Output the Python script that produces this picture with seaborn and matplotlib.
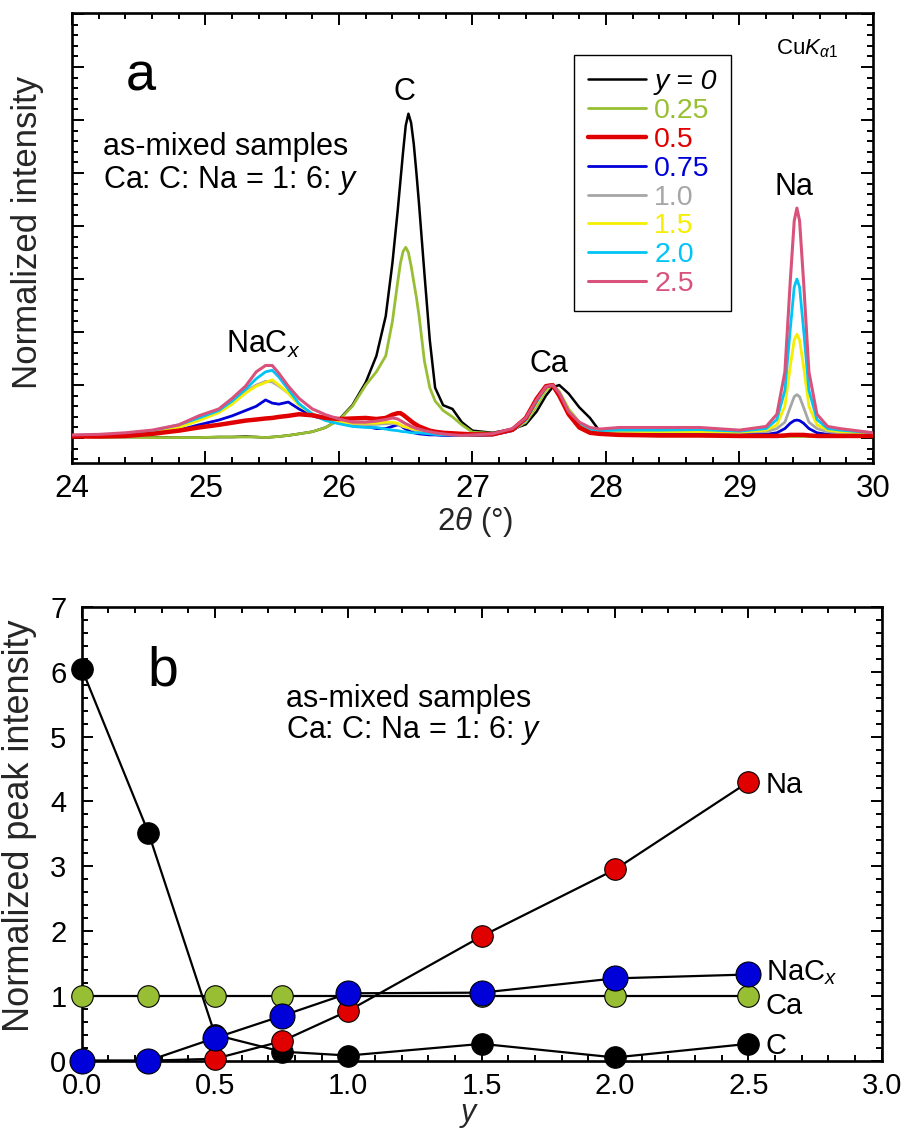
import numpy as np
import pandas as pd
import matplotlib
matplotlib.use("Agg")
import matplotlib.pyplot as plt
import seaborn as sns
from matplotlib.ticker import MultipleLocator, NullFormatter, FormatStrFormatter

# ---------------- panel a : XRD patterns ----------------
TWO_THETA = [24.00, 24.20, 24.40, 24.60, 24.80, 24.95, 25.10, 25.20, 25.30, 25.38,
             25.45, 25.50, 25.55, 25.62, 25.70, 25.80, 25.90, 26.00, 26.10, 26.20,
             26.28, 26.35, 26.40, 26.44, 26.46, 26.48, 26.50, 26.52, 26.54, 26.56,
             26.58, 26.60, 26.64, 26.68,
             26.72, 26.78, 26.85, 26.92, 27.00, 27.15,
             27.30, 27.40, 27.48, 27.55, 27.60, 27.65, 27.72, 27.80, 27.88, 27.95,
             28.10, 28.40, 28.70, 29.00,
             29.20, 29.28, 29.34, 29.38, 29.41, 29.43, 29.45, 29.48, 29.52, 29.58, 29.66, 29.75,
             30.00]

I_Y000 = [0.03, 0.02, 0.02, 0.02, 0.01, 0.01, 0.02, 0.02, 0.03, 0.02,
          0.01, 0.02, 0.03, 0.05, 0.08, 0.12, 0.20, 0.35, 0.62, 1.05,
          1.55, 2.30, 3.30, 4.30, 4.85, 5.40, 5.90, 6.12, 5.95, 5.55,
          5.00, 4.40, 3.10, 1.85,
          0.95, 0.62, 0.55, 0.30, 0.14, 0.10,
          0.17, 0.26, 0.50, 0.80, 0.96, 1.00, 0.84, 0.58, 0.38, 0.14,
          0.08, 0.06, 0.06, 0.05,
          0.05, 0.05, 0.04, 0.05, 0.05, 0.05, 0.04, 0.05, 0.04, 0.05, 0.05, 0.04,
          0.05]
I_Y025 = [0.03, 0.02, 0.02, 0.01, 0.01, 0.01, 0.02, 0.02, 0.02, 0.02,
          0.01, 0.02, 0.03, 0.05, 0.08, 0.12, 0.20, 0.34, 0.60, 1.00,
          1.25, 1.55, 2.20, 2.95, 3.30, 3.52, 3.60, 3.50, 3.25, 2.95,
          2.65, 2.30, 1.45, 0.95,
          0.70, 0.52, 0.40, 0.25, 0.11, 0.09,
          0.15, 0.30, 0.60, 0.90, 1.00, 0.88, 0.55, 0.30, 0.15, 0.10,
          0.06, 0.04, 0.04, 0.03,
          0.03, 0.03, 0.03, 0.03, 0.03, 0.03, 0.03, 0.03, 0.03, 0.03, 0.03, 0.03,
          0.03]
I_Y050 = [0.03, 0.03, 0.04, 0.08, 0.14, 0.20, 0.25, 0.29, 0.33, 0.35,
          0.37, 0.38, 0.40, 0.42, 0.45, 0.43, 0.38, 0.36, 0.37, 0.38,
          0.36, 0.38, 0.44, 0.47, 0.47, 0.44, 0.40, 0.36, 0.32, 0.28,
          0.25, 0.22, 0.18, 0.14,
          0.12, 0.10, 0.09, 0.08, 0.07, 0.07,
          0.16, 0.38, 0.74, 0.98, 1.00, 0.80, 0.45, 0.20, 0.10, 0.08,
          0.06, 0.05, 0.05, 0.04,
          0.04, 0.04, 0.05, 0.06, 0.06, 0.06, 0.06, 0.06, 0.05, 0.04, 0.04, 0.04,
          0.04]
I_Y075 = [0.04, 0.04, 0.05, 0.08, 0.15, 0.25, 0.34, 0.42, 0.52, 0.60,
          0.72, 0.66, 0.64, 0.68, 0.55, 0.42, 0.35, 0.30, 0.27, 0.22,
          0.18, 0.18, 0.22, 0.25, 0.24, 0.20, 0.17, 0.14, 0.12, 0.10,
          0.09, 0.08, 0.07, 0.06,
          0.06, 0.05, 0.05, 0.05, 0.05, 0.06,
          0.14, 0.32, 0.66, 0.94, 1.00, 0.85, 0.50, 0.26, 0.14, 0.10,
          0.08, 0.08, 0.08, 0.07,
          0.07, 0.10, 0.18, 0.28, 0.33, 0.34, 0.33, 0.28, 0.18, 0.10, 0.07, 0.06,
          0.05]
I_Y100 = [0.05, 0.05, 0.07, 0.12, 0.21, 0.35, 0.50, 0.66, 0.88, 1.00,
          1.07, 1.06, 0.98, 0.85, 0.63, 0.46, 0.36, 0.30, 0.26, 0.25,
          0.26, 0.27, 0.28, 0.26, 0.24, 0.22, 0.20, 0.19, 0.17, 0.16,
          0.14, 0.13, 0.11, 0.10,
          0.09, 0.08, 0.07, 0.06, 0.06, 0.07,
          0.15, 0.33, 0.66, 0.94, 1.00, 0.85, 0.50, 0.27, 0.16, 0.13,
          0.12, 0.12, 0.12, 0.11,
          0.12, 0.18, 0.30, 0.58, 0.78, 0.82, 0.78, 0.58, 0.30, 0.18, 0.12, 0.10,
          0.08]
I_Y150 = [0.05, 0.05, 0.07, 0.12, 0.20, 0.33, 0.48, 0.64, 0.85, 0.98,
          1.05, 1.10, 1.00, 0.85, 0.62, 0.45, 0.36, 0.30, 0.28, 0.28,
          0.28, 0.30, 0.30, 0.28, 0.25, 0.22, 0.21, 0.20, 0.18, 0.17,
          0.16, 0.15, 0.13, 0.11,
          0.10, 0.08, 0.07, 0.06, 0.06, 0.07,
          0.15, 0.32, 0.65, 0.93, 1.00, 0.86, 0.52, 0.28, 0.16, 0.13,
          0.13, 0.12, 0.12, 0.11,
          0.15, 0.25, 0.60, 1.35, 1.85, 1.96, 1.85, 1.35, 0.60, 0.25, 0.15, 0.12,
          0.10]
I_Y200 = [0.05, 0.06, 0.08, 0.14, 0.25, 0.38, 0.52, 0.70, 0.92, 1.12,
          1.25, 1.28, 1.15, 0.92, 0.65, 0.45, 0.33, 0.27, 0.22, 0.20,
          0.20, 0.17, 0.15, 0.14, 0.13, 0.12, 0.12, 0.11, 0.10, 0.10,
          0.10, 0.10, 0.09, 0.08,
          0.07, 0.06, 0.06, 0.05, 0.05, 0.07,
          0.15, 0.34, 0.68, 0.95, 1.00, 0.85, 0.50, 0.28, 0.17, 0.14,
          0.15, 0.15, 0.16, 0.13,
          0.18, 0.35, 0.90, 2.05, 2.85, 3.00, 2.85, 2.05, 0.90, 0.35, 0.18, 0.15,
          0.10]
I_Y250 = [0.06, 0.07, 0.10, 0.15, 0.25, 0.42, 0.55, 0.75, 0.98, 1.25,
          1.37, 1.37, 1.22, 0.98, 0.75, 0.55, 0.44, 0.36, 0.30, 0.30,
          0.32, 0.35, 0.38, 0.36, 0.33, 0.30, 0.27, 0.25, 0.22, 0.20,
          0.18, 0.17, 0.14, 0.12,
          0.10, 0.08, 0.06, 0.05, 0.06, 0.08,
          0.18, 0.38, 0.72, 0.97, 1.00, 0.85, 0.50, 0.30, 0.20, 0.17,
          0.20, 0.20, 0.20, 0.15,
          0.22, 0.45, 1.25, 2.95, 4.10, 4.34, 4.10, 2.95, 1.25, 0.45, 0.22, 0.18,
          0.10]

SAMPLE_LABELS = ["y = 0", "0.25", "0.5", "0.75", "1.0", "1.5", "2.0", "2.5"]
SAMPLE_COLORS = ["#000000", "#98bf33", "#e00000", "#0000d8",
                 "#a6a6a6", "#f5ee00", "#00c4f5", "#d8527c"]

# ---------------- panel b : normalized peak intensity ----------------
Y_RATIO = [0.0, 0.25, 0.5, 0.75, 1.0, 1.5, 2.0, 2.5]
PEAK_C = [6.05, 3.52, 0.40, 0.14, 0.08, 0.26, 0.05, 0.26]
PEAK_CA = [1.0, 1.0, 1.0, 1.0, 1.0, 1.0, 1.0, 1.0]
PEAK_NA = [0.0, 0.0, 0.03, 0.30, 0.77, 1.92, 2.95, 4.30]
PEAK_NACX = [0.0, 0.0, 0.35, 0.69, 1.04, 1.05, 1.27, 1.33]

# ---------------- style ----------------
sns.set_style("ticks")
plt.rcParams.update({
    "font.family": ["Liberation Sans", "DejaVu Sans"],
    "mathtext.fontset": "custom",
    "mathtext.rm": "Liberation Sans",
    "mathtext.it": "Liberation Sans:italic",
    "mathtext.bf": "Liberation Sans:bold",
    "mathtext.sf": "Liberation Sans",
    "axes.linewidth": 1.9,
    "axes.edgecolor": "black",
    "xtick.color": "black",
    "ytick.color": "black",
    "text.color": "black",
})

fig = plt.figure(figsize=(9.08, 11.28), dpi=100)
W, H = 908.0, 1128.0

# ---- panel a ----
ax1 = fig.add_axes([72 / W, 1 - 463 / H, 801 / W, 450 / H])
curves = [I_Y000, I_Y025, I_Y050, I_Y075, I_Y100, I_Y150, I_Y200, I_Y250]
widths = [1.8, 2.0, 3.2, 2.0, 2.0, 2.0, 2.0, 2.2]
zorders = [2, 2.1, 2.7, 2.2, 2.3, 2.4, 2.5, 2.8]
for vals, lab, col, lw, zo in zip(curves, SAMPLE_LABELS, SAMPLE_COLORS, widths, zorders):
    sns.lineplot(x=TWO_THETA, y=vals, color=col, lw=lw, ax=ax1, sort=False,
                 estimator=None, label=lab, zorder=zo)

ax1.set_xlim(24, 30)
ax1.set_ylim(-0.47, 8.02)
ax1.xaxis.set_major_locator(MultipleLocator(1))
ax1.xaxis.set_minor_locator(MultipleLocator(0.2))
ax1.yaxis.set_major_locator(MultipleLocator(1))
ax1.yaxis.set_minor_locator(MultipleLocator(0.2))
ax1.yaxis.set_major_formatter(NullFormatter())
ax1.tick_params(which="both", direction="in", top=True, right=True, width=1.4)
ax1.tick_params(which="major", length=8.5)
ax1.tick_params(which="minor", length=4.5)
ax1.tick_params(axis="x", labelsize=22.5, pad=8)
ax1.set_xlabel(r"2$\theta$ (°)", fontsize=22.5, va="center")
ax1.xaxis.set_label_coords(0.504, -0.131)
ax1.set_ylabel("Normalized intensity", fontsize=25, va="center")
ax1.yaxis.set_label_coords(-0.055, 0.513)

leg = ax1.legend(loc="upper left", bbox_to_anchor=(0.6267, 0.9067), fontsize=20.5,
                 frameon=True, fancybox=False, edgecolor="black", framealpha=1,
                 handlelength=2.04, handletextpad=0.28, labelspacing=0.1,
                 borderpad=0.5, borderaxespad=0.0)
leg.get_frame().set_linewidth(1.0)
for t, c in zip(leg.get_texts(), SAMPLE_COLORS):
    t.set_color(c)
leg.get_texts()[0].set_fontstyle("italic")

ax1.text(24.40, 6.55, "a", fontsize=39, ha="left", va="baseline")
ax1.text(24.232, 5.34, "as-mixed samples", fontsize=22, ha="left", va="baseline")
ax1.text(24.232, 4.72, r"Ca: C: Na = 1: 6: $y$", fontsize=22, ha="left", va="baseline")
ax1.text(26.49, 6.38, "C", fontsize=22, ha="center", va="baseline")
ax1.text(25.15, 1.61, r"NaC$_x$", fontsize=22, ha="left", va="baseline")
ax1.text(27.57, 1.245, "Ca", fontsize=22, ha="center", va="baseline")
ax1.text(29.41, 4.58, "Na", fontsize=22, ha="center", va="baseline")
ax1.text(29.27, 7.23, r"Cu$K_{\alpha 1}$", fontsize=16, ha="left", va="baseline")

# ---- panel b ----
ax2 = fig.add_axes([81.7 / W, 1 - 1060.7 / H, 800 / W, 453.7 / H])
series = [
    (PEAK_CA, "#98bf33", 15.5),
    (PEAK_C, "#000000", 15.5),
    (PEAK_NA, "#e00000", 15.5),
    (PEAK_NACX, "#0000d8", 18.0),
]
for i, (vals, fc, ms) in enumerate(series):
    sns.lineplot(x=Y_RATIO, y=vals, color="black", lw=1.6, marker="o",
                 markersize=ms, markerfacecolor=fc, markeredgecolor="black",
                 markeredgewidth=0.8, ax=ax2, estimator=None, clip_on=False,
                 zorder=3 + i)

ax2.set_xlim(0, 3.0)
ax2.set_ylim(0, 7)
ax2.xaxis.set_major_locator(MultipleLocator(0.5))
ax2.xaxis.set_minor_locator(MultipleLocator(0.1))
ax2.xaxis.set_major_formatter(FormatStrFormatter("%.1f"))
ax2.yaxis.set_major_locator(MultipleLocator(1))
ax2.yaxis.set_minor_locator(MultipleLocator(0.2))
ax2.tick_params(which="both", direction="in", top=True, right=True, width=1.4)
ax2.tick_params(which="major", length=8)
ax2.tick_params(which="minor", length=4.5)
ax2.tick_params(axis="x", labelsize=21, pad=8)
ax2.tick_params(axis="y", labelsize=21, pad=11)
ax2.set_xlabel(r"$y$", fontsize=22, va="center")
ax2.xaxis.set_label_coords(0.485, -0.12)
ax2.set_ylabel("Normalized peak intensity", fontsize=26, va="center")
ax2.yaxis.set_label_coords(-0.078, 0.517)

ax2.text(0.245, 5.79, "b", fontsize=40, ha="left", va="baseline")
ax2.text(0.766, 5.46, "as-mixed samples", fontsize=22, ha="left", va="baseline")
ax2.text(0.766, 4.98, r"Ca: C: Na = 1: 6: $y$", fontsize=22, ha="left", va="baseline")
ax2.text(2.566, 4.26, "Na", fontsize=21, ha="left", va="center")
ax2.text(2.566, 1.36, r"NaC$_x$", fontsize=21, ha="left", va="center")
ax2.text(2.566, 0.85, "Ca", fontsize=21, ha="left", va="center")
ax2.text(2.566, 0.22, "C", fontsize=21, ha="left", va="center")

fig.savefig("out.png", dpi=100)
